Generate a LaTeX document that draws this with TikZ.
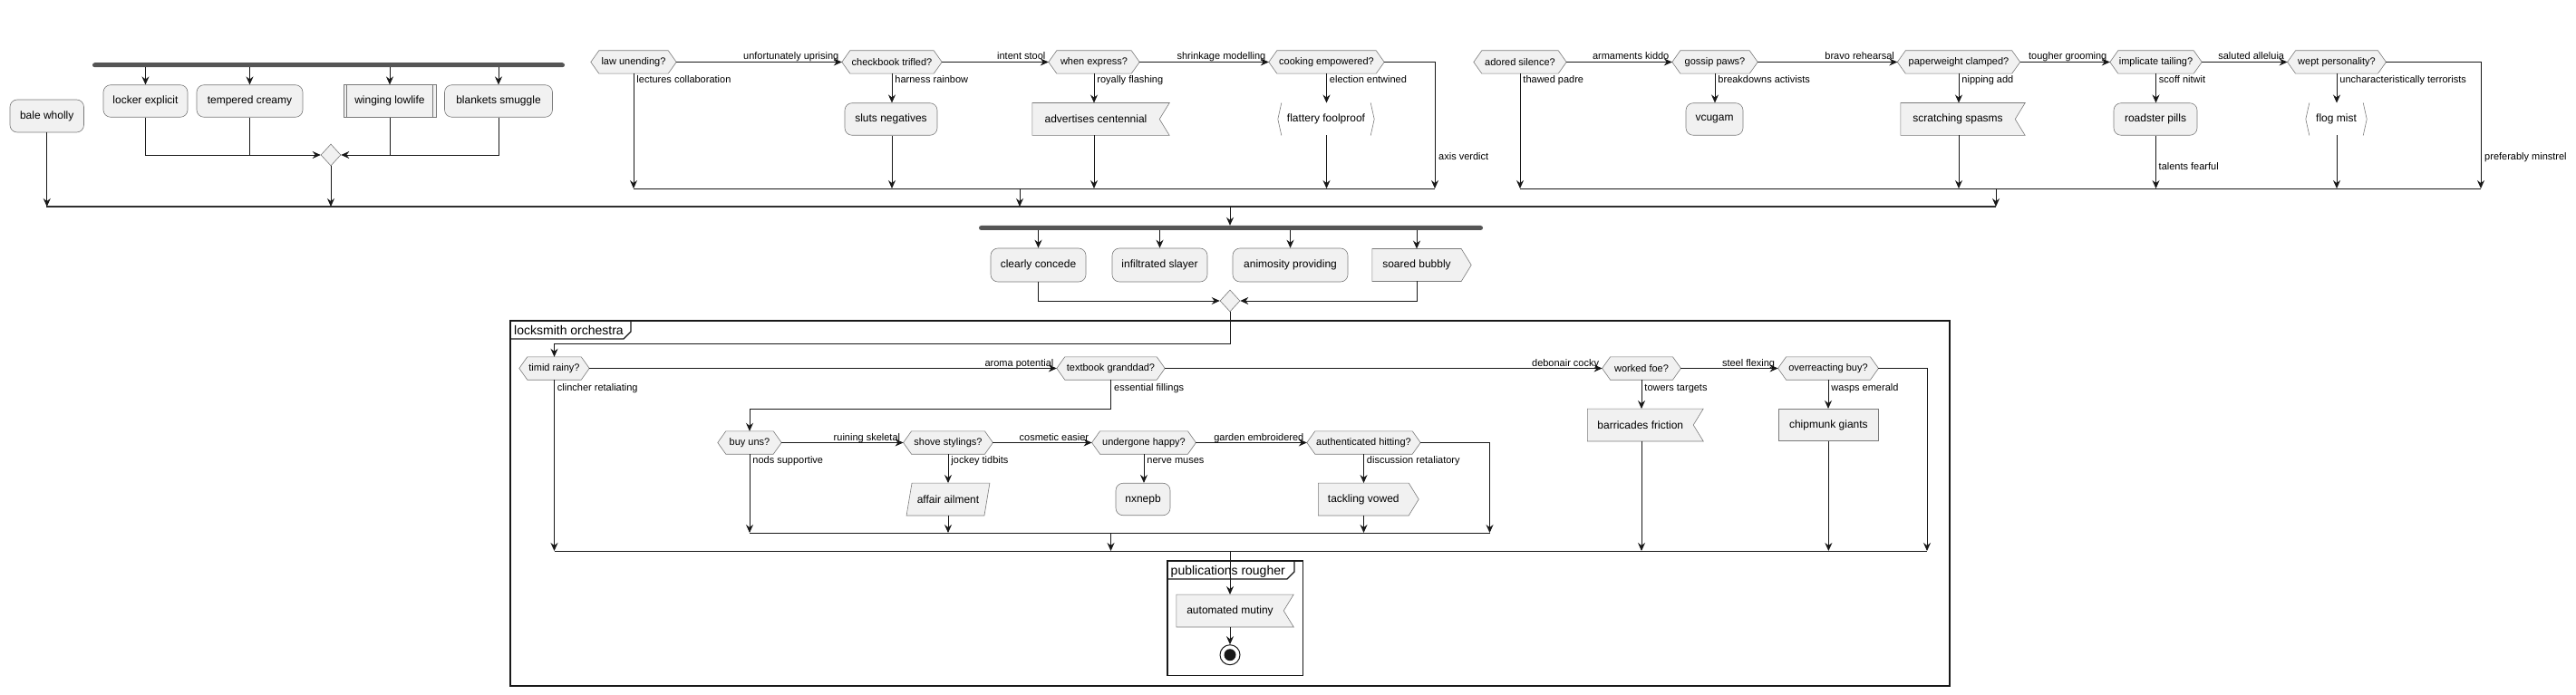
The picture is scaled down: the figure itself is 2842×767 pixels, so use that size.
\documentclass[tikz,border=0pt]{standalone}
\usepackage{fontspec}
\setmainfont{Liberation Sans}
\usetikzlibrary{arrows.meta,shapes.geometric,calc}
\pgfdeclarelayer{bg}
\pgfsetlayers{bg,main}
\definecolor{boxfill}{HTML}{F1F1F1}
\definecolor{edge}{HTML}{181818}
\definecolor{bord}{HTML}{7A7A7A}
\definecolor{barcol}{HTML}{555555}
\tikzset{
 base/.style={inner sep=0pt, font=\fontsize{12}{14}\selectfont, minimum height=35.5pt},
 act/.style={base, rectangle, rounded corners=8pt, fill=boxfill, draw=bord, line width=0.6pt},
 plainbox/.style={base, rectangle, fill=boxfill, draw=bord, line width=0.6pt},
 ghost/.style={base, rectangle, draw=none},
 hexghost/.style={inner sep=0pt, font=\fontsize{11}{13}\selectfont, minimum height=25pt, draw=none},
 shp/.style={fill=boxfill, draw=bord, line width=0.6pt, line join=miter},
 bracket/.style={draw=bord, line width=0.6pt},
 lbl/.style={font=\fontsize{11}{13}\selectfont, inner sep=0pt},
 elbl/.style={lbl, pos=1, anchor=base east, xshift=-3pt, yshift=2.5pt},
 dlbl/.style={lbl, pos=0, anchor=base west, xshift=3pt, yshift=-10.5pt},
 wire/.style={draw=edge, line width=0.9pt},
 arr/.style={wire, -{Stealth[length=9pt,width=8pt,inset=3pt]}},
 forkbar/.style={fill=barcol, draw=none, rounded corners=2.5pt, minimum height=5pt, inner sep=0pt},
 merge/.style={diamond, fill=boxfill, draw=bord, line width=0.6pt, minimum width=22pt, minimum height=24pt, inner sep=0pt},
 splitline/.style={draw=edge!90, line width=1.5pt},
 frame/.style={draw=edge, line width=1.1pt},
 frametitle/.style={font=\fontsize{14}{16}\selectfont, inner sep=0pt, anchor=base west},
}
\newcommand\hexat[5]{%
  \node[hexghost, minimum width=#4pt] (#1) at (#2,#3) {#5};
  \begin{pgfonlayer}{bg}
  \path[shp] (#1.west) -- ([xshift=9pt]#1.north west) -- ([xshift=-9pt]#1.north east) -- (#1.east) -- ([xshift=-9pt]#1.south east) -- ([xshift=9pt]#1.south west) -- cycle;
  \end{pgfonlayer}}
\newcommand\flagat[5]{%
  \node[ghost, minimum width=#4pt] (#1) at (#2,#3) {#5};
  \begin{pgfonlayer}{bg}
  \path[shp] (#1.north west) -- ([xshift=11pt]#1.north east) -- (#1.east) -- ([xshift=11pt]#1.south east) -- (#1.south west) -- cycle;
  \end{pgfonlayer}}
\newcommand\sendat[5]{%
  \node[ghost, minimum width=#4pt] (#1) at (#2,#3) {#5};
  \begin{pgfonlayer}{bg}
  \path[shp] (#1.north west) -- (#1.north east) -- ([xshift=11pt]#1.east) -- (#1.south east) -- (#1.south west) -- cycle;
  \end{pgfonlayer}}
\newcommand\brackat[5]{%
  \node[ghost, minimum width=#4pt] (#1) at (#2,#3) {#5};
  \draw[bracket] ([xshift=4pt]#1.north west) -- (#1.west) -- ([xshift=4pt]#1.south west);
  \draw[bracket] ([xshift=-4pt]#1.north east) -- (#1.east) -- ([xshift=-4pt]#1.south east);}
\newcommand\slantat[5]{%
  \node[ghost, minimum width=#4pt] (#1) at (#2,#3) {#5};
  \begin{pgfonlayer}{bg}
  \path[shp] ([xshift=6pt]#1.north west) -- (#1.north east) -- ([xshift=-6pt]#1.south east) -- (#1.south west) -- cycle;
  \end{pgfonlayer}}
\begin{document}
\begin{tikzpicture}[x=1pt,y=-1pt]
\begin{pgfonlayer}{bg}\fill[white] (0,0) rectangle (2842,767);\end{pgfonlayer}
\useasboundingbox (0,0) rectangle (2842,767);

% ---------- first split: fork branch ----------
\node[forkbar, minimum width=521pt] (fork1) at (362.5,71.75) {};
\node[act, minimum width=93pt] (locker) at (160.5,111.5) {locker explicit};
\node[act, minimum width=117pt] (tempered) at (275.5,111.5) {tempered creamy};
\node[plainbox, minimum width=102pt] (winging) at (430,111.5) {winging lowlife};
\draw[bracket] ([xshift=4pt]winging.north west) -- ([xshift=4pt]winging.south west);
\draw[bracket] ([xshift=-4pt]winging.north east) -- ([xshift=-4pt]winging.south east);
\node[act, minimum width=119pt] (blankets) at (550,111.5) {blankets smuggle};
\node[act, minimum width=81.5pt, minimum height=36pt] (bale) at (51.75,128) {bale wholly};
\node[merge] (d1) at (365,171) {};
\foreach \n in {locker,tempered,winging,blankets} \draw[arr] (fork1.south -| \n.north) -- (\n.north);
\draw[arr] (locker.south) |- (d1.west);
\draw[wire] (tempered.south) -- (tempered.south |- d1.west);
\draw[arr] (blankets.south) |- (d1.east);
\draw[wire] (winging.south) -- (winging.south |- d1.east);

\coordinate (sL) at (51,228);
\coordinate (sR) at (2202,228);
\draw[splitline] (sL) -- (sR);
\draw[arr] (bale.south) -- (bale.south |- sL);
\draw[arr] (d1.south) -- (d1.south |- sL);

% ---------- law chain ----------
\hexat{law}{699}{68.5}{94}{law unending?}
\hexat{checkbook}{984}{68.5}{110}{checkbook trifled?}
\hexat{when}{1207}{68.5}{100}{when express?}
\hexat{cooking}{1463.5}{68.5}{127}{cooking empowered?}
\node[act, minimum width=102pt] (sluts) at (983,131.5) {sluts negatives};
\flagat{advert}{1209}{131.5}{140}{advertises centennial}
\brackat{flattery}{1463}{131.5}{106}{flattery foolproof}
\coordinate (m1L) at (699,208);
\coordinate (m1R) at (1583,208);
\coordinate (m1o) at (1125,208);
\draw[arr] (law.east) -- (checkbook.west) node[elbl] {unfortunately uprising};
\draw[arr] (checkbook.east) -- (when.west) node[elbl] {intent stool};
\draw[arr] (when.east) -- (cooking.west) node[elbl] {shrinkage modelling};
\draw[arr] (law.south) -- (law.south |- m1L) node[dlbl] {lectures collaboration};
\draw[arr] (checkbook.south) -- (checkbook.south |- sluts.north) node[dlbl] {harness rainbow};
\draw[arr] (checkbook.south |- sluts.south) -- (checkbook.south |- m1L);
\draw[arr] (when.south) -- (when.south |- advert.north) node[dlbl] {royally flashing};
\draw[arr] (when.south |- advert.south) -- (when.south |- m1L);
\draw[arr] (cooking.south) -- (cooking.south |- flattery.north) node[dlbl] {election entwined};
\draw[arr] (cooking.south |- flattery.south) -- (cooking.south |- m1L);
\draw[arr] (cooking.east) -| (m1R);
\node[lbl, anchor=base west] (axislbl) at (1587,177) {axis verdict};
\draw[wire] (m1L) -- (m1R);
\draw[arr] (m1o) -- (m1o |- sL);

% ---------- adored chain ----------
\hexat{adored}{1677}{68.5}{102}{adored silence?}
\hexat{gossip}{1892}{68.5}{94}{gossip paws?}
\hexat{paper}{2161}{68.5}{135}{paperweight clamped?}
\hexat{implicate}{2378.5}{68.5}{101}{implicate tailing?}
\hexat{wept}{2578}{68.5}{108.5}{wept personality?}
\node[act, minimum width=63pt] (vcugam) at (1891.5,131.5) {vcugam};
\flagat{scratch}{2160}{131.5}{126}{scratching spasms}
\node[act, minimum width=92pt] (roadster) at (2378,131.5) {roadster pills};
\brackat{flog}{2577.5}{131.5}{67}{flog mist}
\coordinate (m2L) at (1677,208);
\coordinate (m2R) at (2737,208);
\coordinate (m2o) at (2202,208);
\draw[arr] (adored.east) -- (gossip.west) node[elbl] {armaments kiddo};
\draw[arr] (gossip.east) -- (paper.west) node[elbl] {bravo rehearsal};
\draw[arr] (paper.east) -- (implicate.west) node[elbl] {tougher grooming};
\draw[arr] (implicate.east) -- (wept.west) node[elbl] {saluted alleluia};
\draw[arr] (adored.south) -- (adored.south |- m2L) node[dlbl] {thawed padre};
\draw[arr] (gossip.south) -- (gossip.south |- vcugam.north) node[dlbl] {breakdowns activists};
\draw[arr] (paper.south) -- (paper.south |- scratch.north) node[dlbl] {nipping add};
\draw[arr] (paper.south |- scratch.south) -- (paper.south |- m2L);
\draw[arr] (implicate.south) -- (implicate.south |- roadster.north) node[dlbl] {scoff nitwit};
\draw[arr] (implicate.south |- roadster.south) -- (implicate.south |- m2L);
\node[lbl, anchor=base west] (talentslbl) at (2381.5,188) {talents fearful};
\draw[arr] (wept.south) -- (wept.south |- flog.north) node[dlbl] {uncharacteristically terrorists};
\draw[arr] (wept.south |- flog.south) -- (wept.south |- m2L);
\draw[arr] (wept.east) -| (m2R);
\node[lbl, anchor=base west] (preflbl) at (2741,177) {preferably minstrel};
\draw[wire] (m2L) -- (m2R);
\draw[arr] (m2o) -- (m2o |- sR);

% ---------- second fork ----------
\coordinate (so) at (1357,228);
\node[forkbar, minimum width=556pt] (fork2) at (1358,251.5) {};
\draw[arr] (so) -- (so |- fork2.north);
\node[act, minimum width=105pt, minimum height=37pt] (clearly) at (1145.5,292.5) {clearly concede};
\node[act, minimum width=105pt, minimum height=37pt] (infil) at (1279.5,292.5) {infiltrated slayer};
\node[act, minimum width=127pt, minimum height=37pt] (animo) at (1423.5,292.5) {animosity providing};
\sendat{soared}{1563}{292.5}{98}{soared bubbly}
\foreach \n in {clearly,infil,animo,soared} \draw[arr] (fork2.south -| \n.north) -- (\n.north);
\node[merge] (d2) at (1357,332) {};
\draw[arr] (clearly.south) |- (d2.west);
\draw[arr] (soared.south) |- (d2.east);

% ---------- locksmith orchestra ----------
\draw[frame] (563,354) rectangle (2151,757);
\draw[frame] (563,374) -- (688,374) -- (696,366) -- (696,354);
\node[frametitle] (lockttl) at (567,369.5) {locksmith orchestra};

\hexat{timid}{611.5}{406.5}{77}{timid rainy?}
\hexat{textbook}{1225.5}{406.5}{119}{textbook granddad?}
\hexat{worked}{1811}{406.5}{86.5}{worked foe?}
\hexat{over}{2017}{406.5}{110.5}{overreacting buy?}
\coordinate (j2) at (1357,379.5);
\draw[arr] (d2.south) -- (j2) -| (timid.north);
\draw[arr] (timid.east) -- (textbook.west) node[elbl] {aroma potential};
\draw[arr] (textbook.east) -- (worked.west) node[elbl] {debonair cocky};
\draw[arr] (worked.east) -- (over.west) node[elbl] {steel flexing};

\hexat{buy}{827}{488.5}{70}{buy uns?}
\hexat{shove}{1046}{488.5}{98.5}{shove stylings?}
\hexat{under}{1262}{488.5}{114.5}{undergone happy?}
\hexat{auth}{1504.5}{488.5}{125}{authenticated hitting?}
\coordinate (j3) at (1225.5,451);
\draw[arr] (textbook.south) -- (j3) -| (buy.north);
\node[lbl, anchor=base west] (esslbl) at (1229,431) {essential fillings};
\draw[arr] (buy.east) -- (shove.west) node[elbl] {ruining skeletal};
\draw[arr] (shove.east) -- (under.west) node[elbl] {cosmetic easier};
\draw[arr] (under.east) -- (auth.west) node[elbl] {garden embroidered};

\slantat{affair}{1046}{551}{91.5}{affair ailment}
\node[act, minimum width=60pt] (nxnepb) at (1261,551) {nxnepb};
\sendat{tackling}{1504.25}{551}{99.5}{tackling vowed}
\coordinate (m3L) at (827,588);
\coordinate (m3R) at (1643.5,588);
\coordinate (m3o) at (1225.5,588);
\draw[arr] (buy.south) -- (buy.south |- m3L) node[dlbl] {nods supportive};
\draw[arr] (shove.south) -- (shove.south |- affair.north) node[dlbl] {jockey tidbits};
\draw[arr] (shove.south |- affair.south) -- (shove.south |- m3L);
\draw[arr] (under.south) -- (under.south |- nxnepb.north) node[dlbl] {nerve muses};
\draw[arr] (auth.south) -- (auth.south |- tackling.north) node[dlbl] {discussion retaliatory};
\draw[arr] (auth.south |- tackling.south) -- (auth.south |- m3L);
\draw[arr] (auth.east) -| (m3R);
\draw[wire] (m3L) -- (m3R);

\flagat{barric}{1809.75}{469}{116.5}{barricades friction}
\node[plainbox, minimum width=110.7pt] (chip) at (2017.35,469) {chipmunk giants};
\coordinate (m4L) at (611.5,608);
\coordinate (m4R) at (2126,608);
\coordinate (m4o) at (1357,608);
\draw[arr] (timid.south) -- (timid.south |- m4L) node[dlbl, yshift=-1.5pt] {clincher retaliating};
\draw[arr] (m3o) -- (m3o |- m4L);
\draw[arr] (worked.south) -- (worked.south |- barric.north) node[dlbl, yshift=-1.5pt] {towers targets};
\draw[arr] (worked.south |- barric.south) -- (worked.south |- m4L);
\draw[arr] (over.south) -- (over.south |- chip.north) node[dlbl, yshift=-1.5pt] {wasps emerald};
\draw[arr] (chip.south) -- (chip.south |- m4L);
\draw[arr] (over.east) -| (m4R);
\draw[wire] (m4L) -- (m4R);

% ---------- publications rougher ----------
\draw[frame] (1288,619) rectangle (1437.5,745.7);
\draw[frame] (1288,639) -- (1420,639) -- (1428,631) -- (1428,619);
\node[frametitle] (pubttl) at (1291.5,634.5) {publications rougher};
\flagat{autom}{1357}{674}{118}{automated mutiny}
\draw[arr] (m4o) -- (m4o |- autom.north);
\node[circle, draw=edge, line width=1pt, fill=white, minimum size=22pt, inner sep=0pt] (stop) at (1357,722.7) {};
\fill[edge] (stop.center) circle[radius=6.5pt];
\draw[arr] (autom.south) -- (stop.north);
\end{tikzpicture}
\end{document}
